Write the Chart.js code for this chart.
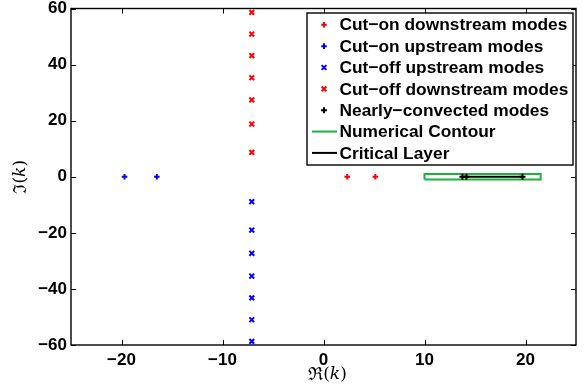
<!DOCTYPE html>
<html>
<head>
<meta charset="utf-8">
<script src="https://cdn.jsdelivr.net/npm/chart.js@4/dist/chart.umd.min.js"></script>
<style>
  body { margin: 0; background: #fff; }
  canvas { display: block; }
</style>
</head>
<body>
<canvas id="myChart" width="584" height="392"></canvas>
<script>
"use strict";
// mode locations
const cutOnDownRe = [2.35, 5.13];
const cutOnUpRe = [-19.7, -16.5];
const cutOffRe = -7.1;
const cutOffUpIm = [-8.9, -19.0, -27.3, -35.4, -43.2, -51.0, -58.7];
const cutOffDownIm = [8.7, 18.8, 27.4, 35.3, 43.2, 50.9, 58.6];
const convectedRe = [13.75, 14.15, 19.7];
const contourRe = [10, 21.5, 21.5, 10, 10];
const contourIm = [-1, -1, 1, 1, -1];
const criticalRe = [13.75, 19.7];

const xTicks = [-20, -10, 0, 10, 20];
const yTicks = [-60, -40, -20, 0, 20, 40, 60];
const legendLabels = [
    'Cut\u2212on downstream modes',
    'Cut\u2212on upstream modes',
    'Cut\u2212off upstream modes',
    'Cut\u2212off downstream modes',
    'Nearly\u2212convected modes',
    'Numerical Contour',
    'Critical Layer'
];

const RED = '#ff0000', BLUE = '#0000ff', GREEN = '#1fb040', BLACK = '#000000';

const onAxis = xs => xs.map(x => ({ x: x, y: 0 }));
const column = (x, ys) => ys.map(y => ({ x: x, y: y }));

function markerSet(label, data, color, style, r) {
    return {
        label: label, data: data, showLine: false,
        pointStyle: style, pointRadius: r, pointHoverRadius: r,
        borderColor: color, backgroundColor: color, pointBorderWidth: 2
    };
}
function lineSet(label, data, color) {
    return {
        label: label, data: data, showLine: true, pointRadius: 0,
        borderColor: color, backgroundColor: color, borderWidth: 2, tension: 0
    };
}

const datasets = [
    markerSet(legendLabels[0], onAxis(cutOnDownRe), RED, 'cross', 2.8),
    markerSet(legendLabels[1], onAxis(cutOnUpRe), BLUE, 'cross', 2.8),
    markerSet(legendLabels[2], column(cutOffRe, cutOffUpIm), BLUE, 'crossRot', 3.4),
    markerSet(legendLabels[3], column(cutOffRe, cutOffDownIm), RED, 'crossRot', 3.4),
    markerSet(legendLabels[4], onAxis(convectedRe), BLACK, 'cross', 3),
    lineSet(legendLabels[5], contourRe.map((x, i) => ({ x: x, y: contourIm[i] })), GREEN),
    lineSet(legendLabels[6], onAxis(criticalRe), BLACK)
];

// box with inward ticks on all four sides
const framePlugin = {
    id: 'frame',
    afterDraw(chart) {
        const { ctx, chartArea: a, scales } = chart;
        ctx.save();
        ctx.strokeStyle = '#000';
        ctx.lineWidth = 1;
        ctx.beginPath();
        xTicks.forEach(v => {
            const px = Math.round(scales.x.getPixelForValue(v)) + 0.5;
            ctx.moveTo(px, a.bottom); ctx.lineTo(px, a.bottom - 5);
            ctx.moveTo(px, a.top); ctx.lineTo(px, a.top + 5);
        });
        yTicks.forEach(v => {
            const py = Math.round(scales.y.getPixelForValue(v)) + 0.5;
            ctx.moveTo(a.left, py); ctx.lineTo(a.left + 5, py);
            ctx.moveTo(a.right, py); ctx.lineTo(a.right - 5, py);
        });
        ctx.stroke();
        ctx.lineWidth = 1.4;
        ctx.strokeRect(a.left, a.top, a.right - a.left, a.bottom - a.top);
        ctx.restore();
    }
};

// mixed font axis titles: fraktur R / I, italic k
function drawTitle(ctx, letter, x, y) {
    const parts = [
        [letter, '18px "DejaVu Serif", serif'],
        ['(', '17px "DejaVu Serif", serif'],
        ['k', 'italic 17px "DejaVu Serif", serif'],
        [')', '17px "DejaVu Serif", serif']
    ];
    let total = 0;
    parts.forEach(p => { ctx.font = p[1]; total += ctx.measureText(p[0]).width; });
    let cx = x - total / 2;
    ctx.textBaseline = 'middle';
    ctx.textAlign = 'left';
    parts.forEach(p => {
        ctx.font = p[1];
        ctx.fillText(p[0], cx, y);
        cx += ctx.measureText(p[0]).width;
    });
}
const titlePlugin = {
    id: 'titles',
    afterDraw(chart) {
        const { ctx, chartArea: a } = chart;
        ctx.save();
        ctx.fillStyle = '#000';
        drawTitle(ctx, '\u211C', (a.left + a.right) / 2 + 4, 375);
        ctx.translate(21, (a.top + a.bottom) / 2);
        ctx.rotate(-Math.PI / 2);
        drawTitle(ctx, '\u2111', 0, 0);
        ctx.restore();
    }
};

const legendPlugin = {
    id: 'boxLegend',
    afterDraw(chart) {
        const ctx = chart.ctx;
        const box = { left: 307, top: 13, right: 573, bottom: 165 };
        ctx.save();
        ctx.fillStyle = '#fff';
        ctx.fillRect(box.left, box.top, box.right - box.left, box.bottom - box.top);
        ctx.strokeStyle = '#000';
        ctx.lineWidth = 1.4;
        ctx.strokeRect(box.left, box.top, box.right - box.left, box.bottom - box.top);
        ctx.font = 'bold 17px "Liberation Sans", Arial, sans-serif';
        ctx.textBaseline = 'middle';
        ctx.textAlign = 'left';
        chart.data.datasets.forEach((ds, i) => {
            const cy = 24.8 + i * 21.35;
            ctx.strokeStyle = ds.borderColor;
            if (ds.showLine) {
                ctx.lineWidth = 2;
                ctx.beginPath();
                ctx.moveTo(312, cy); ctx.lineTo(337, cy);
                ctx.stroke();
            } else {
                ctx.lineWidth = 2;
                Chart.helpers.drawPoint(ctx, { pointStyle: ds.pointStyle, radius: ds.pointRadius, borderWidth: 2 }, 324, cy);
            }
            ctx.fillStyle = '#000';
            ctx.save();
            ctx.translate(339.5, cy);
            ctx.scale(1.02, 1);
            ctx.fillText(ds.label, 0, 1);
            ctx.restore();
        });
        ctx.restore();
    }
};

const tickFont = { family: '"Liberation Sans", Arial, sans-serif', size: 17, weight: 'bold' };

const config = {
    type: 'scatter',
    data: { datasets: datasets },
    options: {
        responsive: false,
        devicePixelRatio: 1,
        animation: false,
        layout: { padding: { top: 8.5, right: 8, left: 0, bottom: 0 } },
        plugins: { legend: { display: false }, tooltip: { enabled: false } },
        scales: {
            x: {
                type: 'linear', min: -25, max: 25,
                grid: { display: false, drawTicks: false },
                border: { display: false },
                ticks: {
                    color: '#000', font: tickFont, padding: 5, maxRotation: 0,
                    callback: v => String(v).replace('-', '\u2212')
                },
                afterBuildTicks: s => { s.ticks = xTicks.map(v => ({ value: v })); },
                afterFit: s => { s.height = 47; s.paddingLeft = 0; s.paddingRight = 0; }
            },
            y: {
                type: 'linear', min: -60, max: 60,
                grid: { display: false, drawTicks: false },
                border: { display: false },
                ticks: {
                    color: '#000', font: tickFont, padding: 4,
                    callback: v => String(v).replace('-', '\u2212')
                },
                afterBuildTicks: s => { s.ticks = yTicks.map(v => ({ value: v })); },
                afterFit: s => { s.width = 71; s.paddingTop = 0; s.paddingBottom = 0; }
            }
        }
    },
    plugins: [framePlugin, titlePlugin, legendPlugin]
};

new Chart(document.getElementById('myChart'), config);
</script>
</body>
</html>
